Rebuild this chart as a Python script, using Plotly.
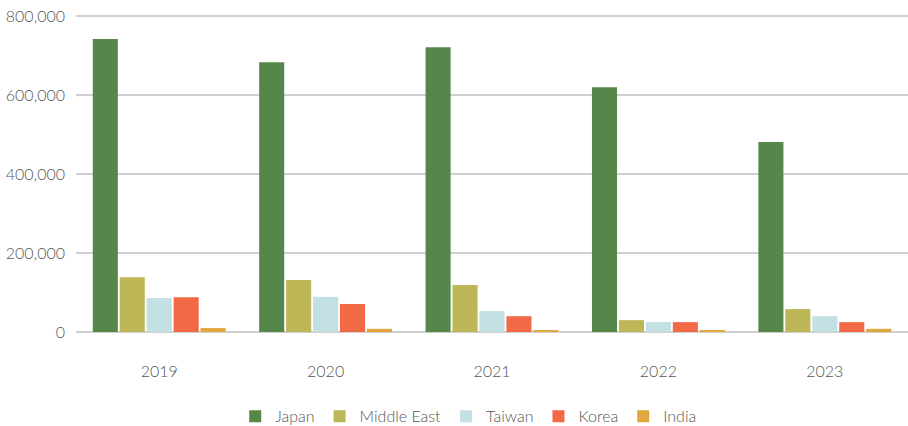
import plotly.graph_objects as go

years = ["2019", "2020", "2021", "2022", "2023"]
japan = [742000, 683000, 721000, 620000, 481000]
middle_east = [139000, 132000, 119000, 30000, 58000]
taiwan = [86000, 89000, 53000, 25000, 40000]
korea = [88000, 71000, 40000, 25000, 25000]
india = [10000, 8000, 5000, 5000, 8000]

series = [
    ("Japan", japan, "#56874A"),
    ("Middle East", middle_east, "#BDB758"),
    ("Taiwan", taiwan, "#C3E0E4"),
    ("Korea", korea, "#F26946"),
    ("India", india, "#E0A73D"),
]

fig = go.Figure()
for name, vals, col in series:
    fig.add_trace(go.Bar(x=years, y=vals, name=name, marker_color=col, marker_line_width=0))

fig.update_layout(
    width=908, height=426,
    margin=dict(l=76, r=0, t=15, b=94, autoexpand=False),
    barmode="group", bargap=0.19, bargroupgap=0.07,
    plot_bgcolor="white", paper_bgcolor="white",
    font=dict(family="Lato", size=16, color="#555555", weight=300),
    legend=dict(orientation="h", x=0.472, xanchor="center", y=-0.266, yanchor="middle",
                font=dict(size=16, color="#555555"), itemwidth=30, tracegroupgap=0),
)
fig.update_xaxes(showgrid=False, showline=False, ticklabelstandoff=28, automargin=False)
# top slightly above 800k so the 800k gridline is still drawn
fig.update_yaxes(range=[0, 803000], tickvals=[0, 200000, 400000, 600000, 800000],
                 tickformat=",", gridcolor="#D0D0D0",
                 gridwidth=2, zeroline=True, zerolinecolor="#D0D0D0", zerolinewidth=2,
                 ticklabelstandoff=10, automargin=False)

# drop the default body margin so the figure sits at the page corner
fig.write_html("out.html", config={"displayModeBar": False},
               post_script="document.body.style.margin='0';")
